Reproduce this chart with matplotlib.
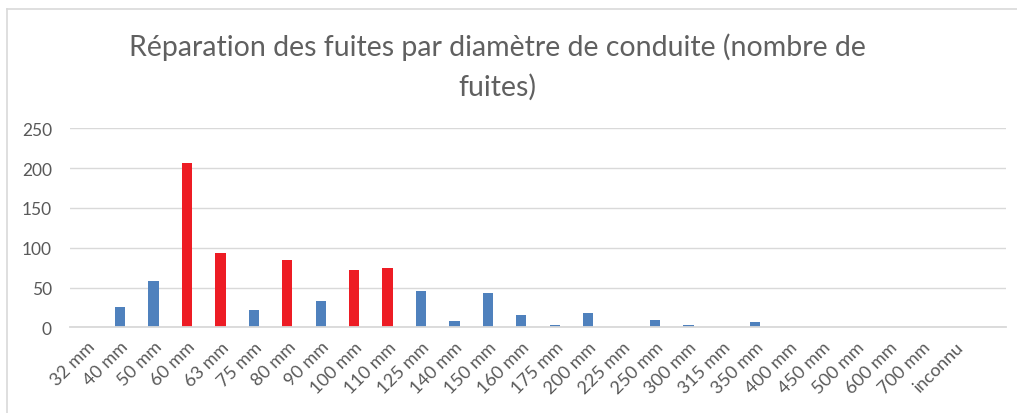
import matplotlib
matplotlib.use("Agg")
import matplotlib.pyplot as plt
from matplotlib.lines import Line2D

categories = ["32 mm", "40 mm", "50 mm", "60 mm", "63 mm", "75 mm", "80 mm", "90 mm",
              "100 mm", "110 mm", "125 mm", "140 mm", "150 mm", "160 mm", "175 mm",
              "200 mm", "225 mm", "250 mm", "300 mm", "315 mm", "350 mm", "400 mm",
              "450 mm", "500 mm", "600 mm", "700 mm", "inconnu", ""]
leaks = [0, 25, 58, 206, 93, 22, 85, 33, 72, 74, 46, 8, 43, 16, 3, 18, 1, 9, 3, 0, 7, 1,
         0, 1, 0, 0, 0, 0]
highlighted = ["60 mm", "63 mm", "80 mm", "100 mm", "110 mm"]
yticks = [0, 50, 100, 150, 200, 250]
title = "Réparation des fuites par diamètre de conduite (nombre de\nfuites)"

BLUE = "#4F81BD"
RED = "#ED1C24"
GRID = "#D9D9D9"
TXT = "#595959"

plt.rcParams["font.family"] = ["Lato", "DejaVu Sans"]

fig = plt.figure(figsize=(10.17, 4.14), dpi=100)
ax = fig.add_axes([70 / 1017, (414 - 328.3) / 414, 936 / 1017, 199 / 414])

x = list(range(len(categories)))
colors = [RED if c in highlighted else BLUE for c in categories]
ax.bar(x, leaks, width=0.31, color=colors, zorder=3)

ax.set_xlim(-0.5, len(categories) - 0.5)
ax.set_ylim(0, 250)
ax.set_yticks(yticks)
ax.set_yticklabels([str(v) for v in yticks], fontsize=12.5, color=TXT)
ax.yaxis.grid(True, color=GRID, linewidth=1.0, zorder=0)
ax.tick_params(axis="both", length=0)
ax.tick_params(axis="y", pad=13)

ax.set_xticks(x)
ax.set_xticklabels(categories, rotation=45, ha="right", va="top",
                   rotation_mode="anchor", fontsize=13, color=TXT)
ax.tick_params(axis="x", pad=8)

for s in ["top", "right", "left"]:
    ax.spines[s].set_visible(False)
ax.spines["bottom"].set_color(GRID)
ax.spines["bottom"].set_linewidth(1.3)
ax.spines["bottom"].set_zorder(4)

fig.text(497 / 1017, 1 - 67 / 414, title, ha="center", va="center",
         fontsize=20.5, color="#606060", linespacing=1.55)

# outer chart border (top and left visible)
fig.add_artist(Line2D([7 / 1017, 1.0], [1 - 10 / 414, 1 - 10 / 414],
                      transform=fig.transFigure, color=GRID, linewidth=1.2))
fig.add_artist(Line2D([7 / 1017, 7 / 1017], [0, 1 - 10 / 414],
                      transform=fig.transFigure, color=GRID, linewidth=1.2))

fig.savefig("out.png", dpi=100)
